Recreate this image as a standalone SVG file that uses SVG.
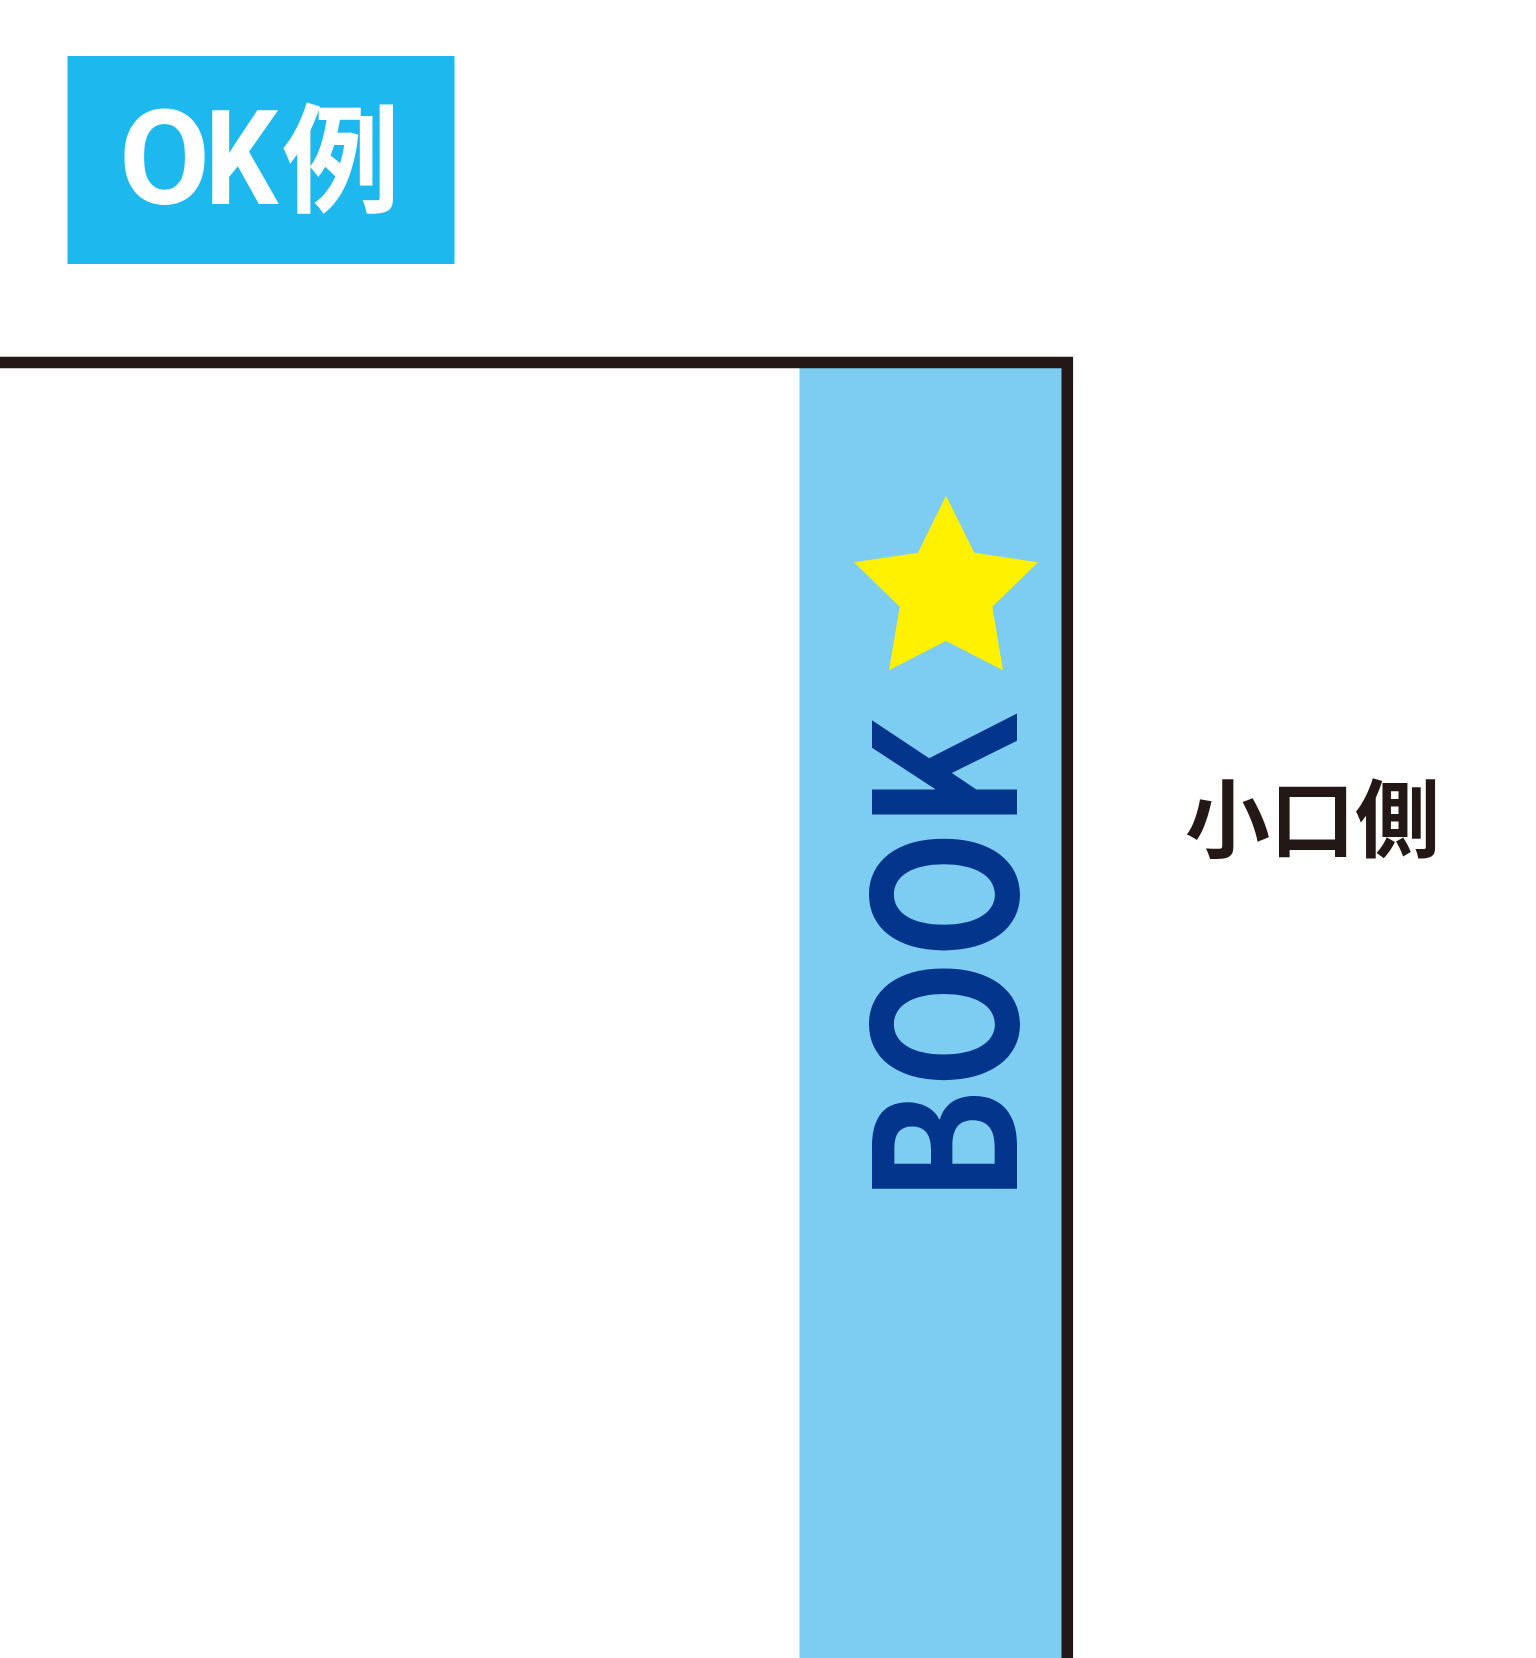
<svg xmlns="http://www.w3.org/2000/svg" width="1536" height="1658" viewBox="0 0 1536 1658">
<style>
.cjk{font-family:"Noto Sans CJK JP","Noto Sans",sans-serif;}
.lat{font-family:Roboto,"Liberation Sans",sans-serif;}
.okt{font-weight:700;fill:#ffffff;}
</style>
<rect x="0" y="0" width="1536" height="1658" fill="#ffffff"/>
<g id="ok-label">
<rect x="67.5" y="56" width="387" height="208" fill="#1DB9EE"/>
<text class="lat okt" x="119" y="204" font-size="132">O</text>
<text class="lat okt" transform="translate(205,204) scale(0.87,1)" x="0" y="0" font-size="132">K</text>
<text class="cjk okt" x="282" y="203" font-size="118">例</text>
</g>
<g id="book">
<rect x="799.5" y="362" width="268" height="1300" fill="#7DCDF3"/>
<polyline points="0,362.5 1067.3,362.5 1067.3,1658" fill="none" stroke="#231815" stroke-width="11.6"/>
<polygon id="star" points="946,495.7 974.3,552.7 1038,562.3 992.3,606.7 1003,670.3 946,641 889,670.3 899.7,606.7 854,562.3 918,552.7" fill="#FFF100"/>
<text class="cjk" transform="translate(1017,959) rotate(-90)" x="0" y="0" text-anchor="middle" font-size="196" font-weight="700" fill="#04358C" textLength="490" lengthAdjust="spacingAndGlyphs">BOOK</text>
</g>
<g id="koguchi-label">
<text class="cjk" x="1185" y="851" font-size="85" font-weight="700" fill="#231815">小口側</text>
</g>
</svg>
